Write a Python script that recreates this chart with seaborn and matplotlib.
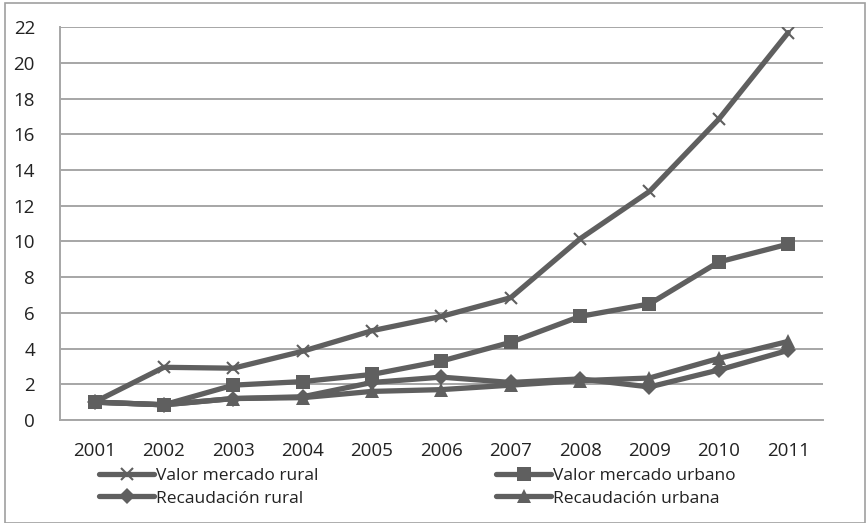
import numpy as np
import pandas as pd
import seaborn as sns
import matplotlib.pyplot as plt
from matplotlib.patches import Rectangle

years = ['2001', '2002', '2003', '2004', '2005', '2006', '2007', '2008', '2009', '2010', '2011']
mercado_rural = [1.0, 2.95, 2.9, 3.85, 5.0, 5.8, 6.85, 10.15, 12.8, 16.85, 21.7]
mercado_urbano = [1.0, 0.85, 1.95, 2.15, 2.55, 3.3, 4.35, 5.8, 6.5, 8.85, 9.85]
recaudacion_rural = [1.0, 0.85, 1.2, 1.3, 2.1, 2.4, 2.1, 2.3, 1.85, 2.8, 3.9]
recaudacion_urbana = [1.0, 0.85, 1.2, 1.25, 1.6, 1.7, 1.95, 2.2, 2.35, 3.45, 4.4]

series = ['Valor mercado rural', 'Valor mercado urbano', 'Recaudación rural', 'Recaudación urbana']
values = [mercado_rural, mercado_urbano, recaudacion_rural, recaudacion_urbana]
markers = ['x', 's', 'D', '^']
msizes = [9, 10, 8, 10]

sns.set_theme(style='white')
plt.rcParams['font.family'] = ['Open Sans', 'DejaVu Sans']

fig = plt.figure(figsize=(8.68, 5.23), dpi=100)
ax = fig.add_axes([0.069, 0.197, 0.879, 0.751])

grey = '#5f5f5f'
for name, vals, mk, ms in zip(series, values, markers, msizes):
    df = pd.DataFrame({'x': np.arange(len(years)), 'y': vals})
    sns.lineplot(data=df, x='x', y='y', ax=ax, color=grey, linewidth=3.8,
                 marker=mk, markersize=ms, markeredgewidth=1.5 if mk == 'x' else 0,
                 markeredgecolor=grey, markerfacecolor=grey, label=name)

ax.set_xlim(-0.5, len(years) - 0.5)
ax.set_ylim(0, 22)
ax.set_yticks(range(0, 23, 2))
ax.set_xticks(range(len(years)))
ax.set_xticklabels(years)
ax.set_xlabel('')
ax.set_ylabel('')
ax.yaxis.grid(True, color='#a6a6a6', linewidth=1.4)
ax.set_axisbelow(True)
for s in ['top', 'right']:
    ax.spines[s].set_visible(False)
for s in ['left', 'bottom']:
    ax.spines[s].set_color('#a6a6a6')
    ax.spines[s].set_linewidth(1.4)
ax.tick_params(axis='both', length=0, labelsize=13.5, colors='#222222')
ax.tick_params(axis='y', pad=18)
ax.tick_params(axis='x', pad=16)

# legend filled row by row, like the original
handles, labels = ax.get_legend_handles_labels()
order = [0, 2, 1, 3]
leg = ax.legend([handles[i] for i in order], [labels[i] for i in order],
                loc='upper left', bbox_to_anchor=(0.042, -0.105), ncol=2, frameon=False,
                fontsize=12.5, handlelength=3.2, handletextpad=0.1, columnspacing=10.2,
                labelspacing=0.35, borderaxespad=0)
for t in leg.get_texts():
    t.set_color('#222222')

fig.add_artist(Rectangle((0.006, 0.0), 0.99, 0.994, transform=fig.transFigure,
                         fill=False, edgecolor='#a0a0a0', linewidth=1.2))

fig.savefig('out.png', dpi=100)
